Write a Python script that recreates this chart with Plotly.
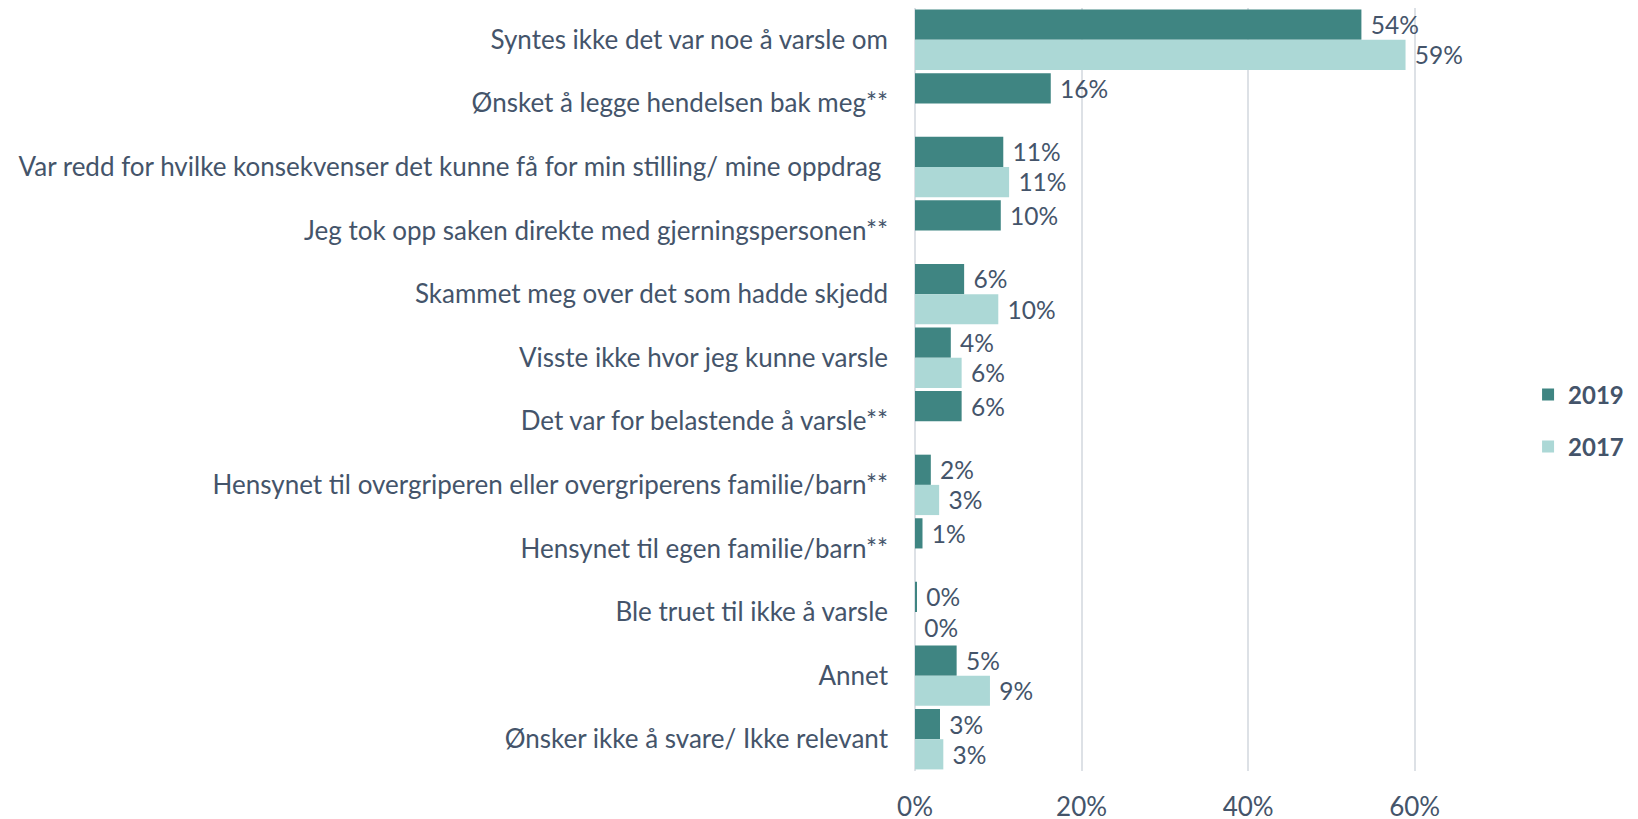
import plotly.graph_objects as go

categories = [
    "Syntes ikke det var noe å varsle om",
    "Ønsket å legge hendelsen bak meg**",
    "Var redd for hvilke konsekvenser det kunne få for min stilling/ mine oppdrag ",
    "Jeg tok opp saken direkte med gjerningspersonen**",
    "Skammet meg over det som hadde skjedd",
    "Visste ikke hvor jeg kunne varsle",
    "Det var for belastende å varsle**",
    "Hensynet til overgriperen eller overgriperens familie/barn**",
    "Hensynet til egen familie/barn**",
    "Ble truet til ikke å varsle",
    "Annet",
    "Ønsker ikke å svare/ Ikke relevant",
]
v2019 = [53.6, 16.3, 10.6, 10.3, 5.9, 4.3, 5.6, 1.9, 0.9, 0.2, 5.0, 3.0]
v2017 = [58.9, None, 11.3, None, 10.0, 5.6, None, 2.9, None, 0.0, 9.0, 3.4]

FONT = "Lato"
TXT = "#44546a"
SIZE = 26

def labels(vals):
    return ["" if v is None else " %d%%" % round(v) for v in vals]

fig = go.Figure()
fig.add_trace(go.Bar(y=categories, x=v2019, name="2019", orientation="h",
                     marker_color="#3f8582", marker_line_width=0,
                     legendgroup="a",
                     text=labels(v2019), textposition="outside",
                     textfont=dict(color=TXT, size=SIZE, family=FONT),
                     cliponaxis=False))
fig.add_trace(go.Bar(y=categories, x=v2017, name="2017", orientation="h",
                     marker_color="#acd8d6", marker_line_width=0,
                     legendgroup="b",
                     text=labels(v2017), textposition="outside",
                     textfont=dict(color=TXT, size=SIZE, family=FONT),
                     cliponaxis=False))

fig.update_layout(
    width=1638, height=819,
    barmode="group", bargap=0.05, bargroupgap=0,
    plot_bgcolor="white", paper_bgcolor="white",
    margin=dict(l=907, r=148, t=0, b=56),
    font=dict(family=FONT, color=TXT, size=SIZE),
    legend=dict(xref="container", yref="container", x=0.928, y=0.496,
                xanchor="left", yanchor="middle",
                font=dict(size=24, color=TXT, family=FONT, weight="bold"),
                itemwidth=30, tracegroupgap=18),
    showlegend=True,
)
fig.update_xaxes(range=[0, 70], tickvals=[0, 20, 40, 60],
                 ticktext=["0%", "20%", "40%", "60%"],
                 showgrid=True, gridcolor="#dde1e6", gridwidth=1.5,
                 zeroline=True, zerolinecolor="#dde1e6", zerolinewidth=1.5,
                 ticklabelstandoff=18, tickfont=dict(size=SIZE))
fig.update_yaxes(autorange="reversed", showgrid=False,
                 ticklabelstandoff=26, tickfont=dict(size=SIZE))

fig.write_html("out.html")
